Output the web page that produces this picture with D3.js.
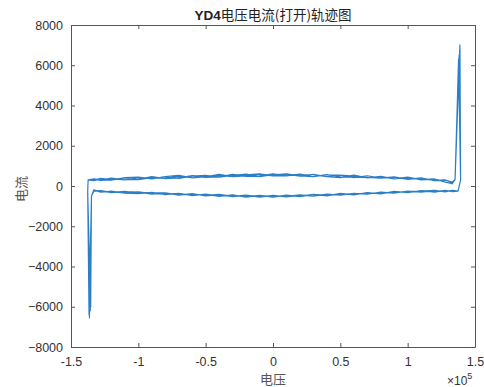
<!DOCTYPE html>
<html>
<head>
<meta charset="utf-8">
<script src="https://cdn.jsdelivr.net/npm/d3@7"></script>
<style>
  html, body { margin: 0; padding: 0; background: #fff; }
  svg { display: block; }
  .tick text { font-family: "Liberation Sans", Arial, sans-serif; font-size: 12.5px; fill: #333; }
</style>
</head>
<body>
<svg id="chart" width="484" height="387"></svg>
<script>
// Voltage sample grid (V) shared by both branches of every cycle
const voltGrid = [-133000, -128000, -120000, -110000, -100000, -90000, -80000, -70000, -60000,
  -50000, -40000, -30000, -20000, -10000, 0, 10000, 20000, 30000, 40000, 50000, 60000,
  70000, 80000, 90000, 100000, 110000, 120000, 128000, 133000];

// Current (A) on the rising-voltage branch, one row per cycle, along voltGrid
const upperCurrent = [
  [280, 380, 290, 420, 440, 350, 470, 530, 400, 460, 580, 470, 560, 610, 500, 590, 490, 580, 460, 420, 540, 400, 480, 350, 440, 300, 340, 200, 120],
  [360, 290, 390, 310, 330, 470, 370, 400, 520, 430, 450, 580, 480, 490, 610, 500, 590, 460, 560, 540, 420, 510, 390, 450, 330, 400, 260, 290, 190],
  [270, 340, 370, 300, 410, 380, 460, 380, 490, 530, 440, 530, 590, 470, 560, 610, 500, 470, 570, 450, 440, 410, 470, 350, 420, 320, 350, 190, 110],
  [340, 280, 300, 400, 320, 420, 380, 480, 410, 510, 530, 460, 500, 580, 500, 520, 570, 560, 470, 540, 490, 430, 390, 440, 350, 370, 280, 300, 170]
];

// Current (A) on the falling-voltage branch, one row per cycle, along voltGrid
const lowerCurrent = [
  [-200, -310, -250, -360, -380, -310, -430, -360, -480, -400, -520, -440, -550, -470, -550, -450, -530, -420, -490, -370, -440, -330, -390, -270, -330, -230, -300, -220, -280],
  [-260, -240, -330, -280, -300, -400, -340, -450, -380, -490, -430, -530, -460, -550, -470, -540, -450, -500, -410, -460, -360, -410, -300, -350, -250, -310, -230, -280, -220],
  [-190, -300, -270, -350, -290, -380, -400, -370, -460, -420, -500, -450, -530, -460, -540, -470, -510, -420, -470, -390, -420, -340, -380, -280, -320, -260, -290, -240, -270],
  [-250, -230, -320, -270, -360, -330, -340, -440, -400, -470, -420, -510, -450, -540, -490, -520, -440, -500, -400, -450, -370, -400, -310, -340, -260, -250, -220, -290, -210]
];

// Current spikes at the voltage extremes, per cycle
const rightPeakVolt = [138800, 138200, 138600, 137800];
const rightPeakCurrent = [7000, 6500, 6750, 6300];
const leftPeakVolt = [-136300, -135700, -136600, -135400];
const leftPeakCurrent = [-6550, -6200, -6400, -6000];

// Axis ticks
const xTicks = [-150000, -100000, -50000, 0, 50000, 100000, 150000];
const yTicks = [-8000, -6000, -4000, -2000, 0, 2000, 4000, 6000, 8000];

const margin = { top: 25, right: 9, bottom: 40, left: 71 };
const W = 484, H = 387;
const w = W - margin.left - margin.right;
const h = H - margin.top - margin.bottom;

const svg = d3.select("#chart");
const g = svg.append("g").attr("transform", `translate(${margin.left},${margin.top})`);

const x = d3.scaleLinear().domain([-150000, 150000]).range([0, w]);
const y = d3.scaleLinear().domain([-8000, 8000]).range([h, 0]);

// Build the trajectory: rising branch, right spike, falling branch, left spike
const traj = [];
for (let c = 0; c < upperCurrent.length; c++) {
  traj.push([-137300, 300]);
  voltGrid.forEach((v, k) => traj.push([v, upperCurrent[c][k]]));
  traj.push([135200, 320]);
  traj.push([rightPeakVolt[c], rightPeakCurrent[c]]);
  traj.push([139300, 300]);
  traj.push([137400, -250]);
  for (let k = voltGrid.length - 1; k >= 0; k--) traj.push([voltGrid[k], lowerCurrent[c][k]]);
  traj.push([-134800, -500]);
  traj.push([leftPeakVolt[c], leftPeakCurrent[c]]);
  traj.push([-137600, -300]);
}
traj.push([-137300, 300]);

const line = d3.line().x(d => x(d[0])).y(d => y(d[1]));

g.append("path")
  .datum(traj)
  .attr("fill", "none")
  .attr("stroke", "#2a7fc6")
  .attr("stroke-width", 1.2)
  .attr("stroke-linejoin", "round")
  .attr("d", line);

// Axes with inward ticks on all four sides (boxed)
const tk = 4;
const xFmt = d => String(d / 100000);
const axB = g.append("g").attr("transform", `translate(0,${h})`)
  .call(d3.axisBottom(x).tickValues(xTicks).tickFormat(xFmt).tickSizeInner(-tk).tickSizeOuter(0).tickPadding(10));
const axT = g.append("g")
  .call(d3.axisTop(x).tickValues(xTicks).tickFormat("").tickSizeInner(-tk).tickSizeOuter(0));
const axL = g.append("g")
  .call(d3.axisLeft(y).tickValues(yTicks).tickFormat(d3.format("d")).tickSizeInner(-tk).tickSizeOuter(0).tickPadding(8));
const axR = g.append("g").attr("transform", `translate(${w},0)`)
  .call(d3.axisRight(y).tickValues(yTicks).tickFormat("").tickSizeInner(-tk).tickSizeOuter(0));

[axB, axT, axL, axR].forEach(a => {
  a.select(".domain").attr("stroke", "#555");
  a.selectAll(".tick line").attr("stroke", "#555");
});

// Title
const title = svg.append("text")
  .attr("x", margin.left + w / 2)
  .attr("y", 20)
  .attr("text-anchor", "middle")
  .attr("fill", "#222")
  .style("font-size", "13.5px");
title.append("tspan").text("YD4")
  .style("font-family", "'Liberation Sans', Arial, sans-serif").style("font-weight", "bold");
title.append("tspan").text("电压电流(打开)轨迹图")
  .style("font-family", "'Noto Sans CJK SC', sans-serif");

// Axis labels
svg.append("text")
  .attr("x", margin.left + w / 2)
  .attr("y", 384)
  .attr("text-anchor", "middle")
  .attr("fill", "#555")
  .style("font-family", "'Noto Sans CJK SC', sans-serif")
  .style("font-size", "13px")
  .text("电压");

svg.append("text")
  .attr("transform", `translate(26,${margin.top + h / 2 + 3}) rotate(-90)`)
  .attr("text-anchor", "middle")
  .attr("fill", "#555")
  .style("font-family", "'Noto Sans CJK SC', sans-serif")
  .style("font-size", "13px")
  .text("电流");

// Exponent marker for the voltage axis
const ex = svg.append("text")
  .attr("x", 447)
  .attr("y", 385)
  .attr("fill", "#333")
  .style("font-family", "'Liberation Sans', Arial, sans-serif")
  .style("font-size", "12px");
ex.append("tspan").text("×10");
ex.append("tspan").attr("dy", -6).style("font-size", "9px").text("5");
</script>
</body>
</html>
